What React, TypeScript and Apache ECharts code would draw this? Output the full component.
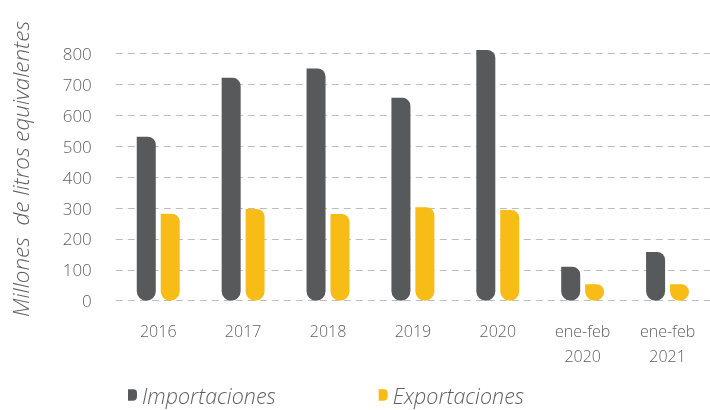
import React, { useEffect, useRef } from "react";
import * as echarts from "echarts";

const categories = ["2016", "2017", "2018", "2019", "2020", "ene-feb\n2020", "ene-feb\n2021"];
const importaciones = [531, 722, 752, 657, 812, 110, 158];
const exportaciones = [282, 297, 281, 303, 294, 53, 53];
const yTicks = [0, 100, 200, 300, 400, 500, 600, 700, 800];

const FONT = "'Open Sans', 'Noto Sans', sans-serif";
const TEXT = "#5f5f5f";
const IMP = "#58595b";
const EXP = "#f8bc16";

export default function App() {
  const ref = useRef<HTMLDivElement>(null);
  useEffect(() => {
    if (!ref.current) return;
    const chart = echarts.init(ref.current, undefined, { renderer: "svg" });
    const icon = "path://M0,0 H6 Q10,0 10,4 V8 Q10,13 5,13 H0 Z";
    chart.setOption({
      animation: false,
      grid: { left: 115.8, top: 53.7, width: 598.5, height: 247, containLabel: false },
      xAxis: {
        type: "category",
        data: categories,
        axisLine: { show: false },
        axisTick: { show: false },
        axisLabel: {
          color: TEXT,
          fontSize: 16,
          fontFamily: FONT,
          fontWeight: 300,
          margin: 18,
          lineHeight: 25,
          interval: 0,
        },
      },
      yAxis: {
        type: "value",
        min: yTicks[0],
        max: yTicks[yTicks.length - 1],
        interval: 100,
        axisLine: { show: false },
        axisTick: { show: false },
        axisLabel: { color: TEXT, fontSize: 17, fontFamily: FONT, fontWeight: 300, margin: 24 },
        splitLine: { show: true, lineStyle: { color: "#bdbdbd", type: [7, 5], width: 1 } },
      },
      legend: {
        left: 128,
        top: 383,
        padding: 0,
        itemWidth: 9,
        itemHeight: 12,
        itemGap: 103,
        textStyle: { color: TEXT, fontSize: 21.5, lineHeight: 24, fontStyle: "italic", fontFamily: FONT, fontWeight: 300 },
        data: [
          { name: "Importaciones", icon },
          { name: "Exportaciones", icon },
        ],
      },
      graphic: [
        {
          type: "text",
          x: 20,
          y: 169,
          rotation: Math.PI / 2,
          style: {
            text: "Millones  de litros equivalentes",
            fill: TEXT,
            fontSize: 22.5,
            fontStyle: "italic",
            fontFamily: FONT,
            fontWeight: 300,
            align: "center",
            verticalAlign: "middle",
          },
        },
      ],
      series: [
        {
          name: "Importaciones",
          type: "bar",
          data: importaciones,
          barWidth: 19,
          barGap: "26%",
          clip: false,
          itemStyle: { color: IMP, borderRadius: [0, 8, 9.5, 9.5] },
        },
        {
          name: "Exportaciones",
          type: "bar",
          data: exportaciones,
          barWidth: 19,
          barGap: "26%",
          clip: false,
          itemStyle: { color: EXP, borderRadius: [0, 8, 9.5, 9.5] },
        },
      ],
    });
    return () => chart.dispose();
  }, []);
  return <div ref={ref} style={{ position: "fixed", left: 0, top: 0, width: 710, height: 410 }} />;
}
